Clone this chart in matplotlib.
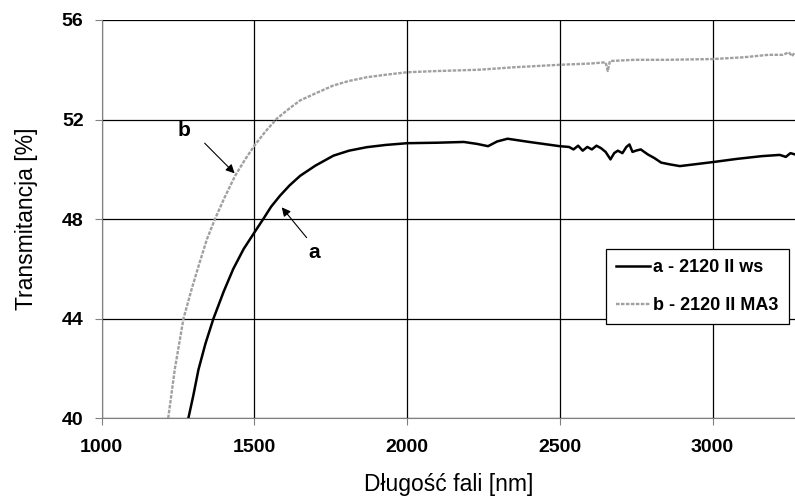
import matplotlib.pyplot as plt

plt.rcParams['font.family'] = ['Liberation Sans', 'DejaVu Sans']

# curve a - 2120 II ws (wavelength nm, transmittance %)
wl_a = [1284, 1300, 1317, 1340, 1366, 1400, 1431, 1465, 1500, 1529, 1555, 1584,
        1615, 1650, 1700, 1759, 1810, 1868, 1930, 2000, 2100, 2186, 2230, 2265,
        2295, 2329, 2400, 2500, 2530, 2545, 2560, 2575, 2590, 2605, 2620, 2635,
        2650, 2666, 2678, 2690, 2705, 2718, 2728, 2738, 2749, 2765, 2788, 2810,
        2832, 2860, 2893, 2940, 3000, 3080, 3161, 3220, 3240, 3255, 3270]
tr_a = [40.0, 40.9, 41.95, 43.0, 44.0, 45.1, 46.0, 46.8, 47.46, 48.0, 48.5, 48.94,
        49.35, 49.74, 50.15, 50.55, 50.75, 50.89, 50.98, 51.05, 51.07, 51.1, 51.02, 50.93,
        51.12, 51.23, 51.1, 50.93, 50.9, 50.8, 50.95, 50.75, 50.9, 50.8, 50.95, 50.85,
        50.7, 50.4, 50.65, 50.75, 50.65, 50.9, 51.0, 50.7, 50.75, 50.8, 50.6, 50.45,
        50.27, 50.2, 50.13, 50.2, 50.29, 50.42, 50.53, 50.58, 50.5, 50.65, 50.6]

# curve b - 2120 II MA3
wl_b = [1218, 1240, 1268, 1295, 1322, 1345, 1371, 1400, 1437, 1470, 1500, 1535,
        1573, 1610, 1650, 1700, 1759, 1810, 1868, 1930, 2000, 2100, 2233, 2350,
        2500, 2600, 2650, 2657, 2664, 2744, 2850, 3000, 3100, 3183, 3230, 3250,
        3260, 3270]
tr_b = [40.0, 42.0, 44.0, 45.2, 46.3, 47.2, 48.0, 48.8, 49.74, 50.4, 50.95, 51.5,
        52.03, 52.4, 52.77, 53.05, 53.37, 53.55, 53.7, 53.8, 53.9, 53.95, 54.0, 54.1,
        54.2, 54.25, 54.3, 53.95, 54.35, 54.4, 54.4, 54.43, 54.5, 54.6, 54.6, 54.7,
        54.55, 54.7]

fig = plt.figure(figsize=(7.95, 4.97), dpi=100)
ax = fig.add_axes([0.1278, 0.1584, 0.8722, 0.8014])

ax.plot(wl_b, tr_b, color='#a0a0a0', lw=1.7, ls=(0, (1.5, 0.6)), label='b - 2120 II MA3')
ax.plot(wl_a, tr_a, color='black', lw=1.8, label='a - 2120 II ws')

ax.set_xlim(1000, 3270)
ax.set_ylim(40, 56)
ax.set_xticks([1000, 1500, 2000, 2500, 3000])
ax.set_yticks([40, 44, 48, 52, 56])
ax.grid(True, color='black', lw=0.9)
for s in ['top', 'right']:
    ax.spines[s].set_visible(False)
for s in ['left', 'bottom']:
    ax.spines[s].set_color('#808080')
ax.tick_params(direction='out', length=5, color='#808080', labelsize=14)
ax.tick_params(axis='x', pad=10)
ax.tick_params(axis='y', pad=8)
for lab in ax.get_xticklabels() + ax.get_yticklabels():
    lab.set_fontweight('bold')

ax.set_xlabel('Długość fali [nm]', fontsize=16.5, labelpad=12)
ax.set_ylabel('Transmitancja [%]', fontsize=16.5, labelpad=17)

arrow = dict(arrowstyle='-|>', color='black', lw=0.8, mutation_scale=13)
ax.annotate('', xy=(1442, 49.76), xytext=(1331, 51.13), arrowprops=arrow)
ax.text(1269, 51.58, 'b', fontsize=15, fontweight='bold', ha='center', va='center')
ax.annotate('', xy=(1584, 48.56), xytext=(1677, 47.17), arrowprops=arrow)
ax.text(1696, 46.65, 'a', fontsize=15, fontweight='bold', ha='center', va='center')

h, l = ax.get_legend_handles_labels()
leg = ax.legend(h[::-1], l[::-1], loc='center right', bbox_to_anchor=(0.991, 0.331),
                fancybox=False, edgecolor='black', framealpha=1,
                prop={'weight': 'bold', 'size': 13}, handlelength=1.9,
                labelspacing=1.17, borderpad=0.55, handletextpad=0.2,
                borderaxespad=0)
leg.get_frame().set_linewidth(0.9)

fig.savefig('out.png', dpi=100)
